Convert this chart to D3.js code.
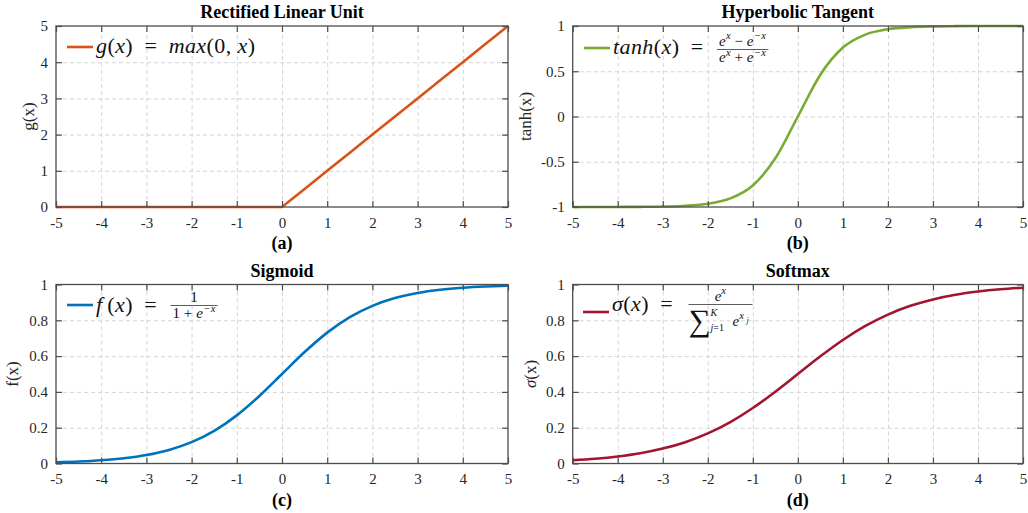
<!DOCTYPE html>
<html>
<head>
<meta charset="utf-8">
<script src="https://cdn.jsdelivr.net/npm/d3@7"></script>
<style>
  body { margin: 0; background: #fff; }
  svg text, svg tspan { font-family: "Liberation Serif", "Times New Roman", serif; }
  .grid line { stroke: #d4d4d4; stroke-dasharray: 4,3; }
  .grid path { display: none; }
  .ax path { display: none; }
  .ax line { stroke: #4d4d4d; stroke-width: 1.2; }
</style>
</head>
<body>
<svg id="chart" width="1028" height="513"></svg>
<script>
// sample points, every 0.5
const xValues = [-5, -4.5, -4, -3.5, -3, -2.5, -2, -1.5, -1, -0.5, 0,
  0.5, 1, 1.5, 2, 2.5, 3, 3.5, 4, 4.5, 5];
const reluValues = [0, 0, 0, 0, 0, 0, 0, 0, 0, 0, 0,
  0.5, 1, 1.5, 2, 2.5, 3, 3.5, 4, 4.5, 5];
const tanhValues = [-0.9999, -0.9998, -0.9993, -0.9982, -0.9951, -0.9866, -0.964, -0.9051, -0.7616, -0.4621, 0,
  0.4621, 0.7616, 0.9051, 0.964, 0.9866, 0.9951, 0.9982, 0.9993, 0.9998, 0.9999];
const sigmoidValues = [0.0067, 0.011, 0.018, 0.0293, 0.0474, 0.0759, 0.1192, 0.1824, 0.2689, 0.3775, 0.5,
  0.6225, 0.7311, 0.8176, 0.8808, 0.9241, 0.9526, 0.9707, 0.982, 0.989, 0.9933];
const softmaxValues = [0.018, 0.0266, 0.0392, 0.0573, 0.0832, 0.1192, 0.168, 0.2315, 0.31, 0.4013, 0.5,
  0.5987, 0.69, 0.7685, 0.832, 0.8808, 0.9168, 0.9427, 0.9608, 0.9734, 0.982];

const xTicks = [-5, -4, -3, -2, -1, 0, 1, 2, 3, 4, 5];
const reluTicks = [0, 1, 2, 3, 4, 5];
const tanhTicks = [-1, -0.5, 0, 0.5, 1];
const unitTicks = [0, 0.2, 0.4, 0.6, 0.8, 1];

const FONT = '"Liberation Serif", "Times New Roman", serif';
const svg = d3.select('#chart');

const panels = [
  { left: 56, right: 508, top: 26, bottom: 207, y: reluValues, yDomain: [0, 5], yTicks: reluTicks,
    color: '#D95319', linear: true, title: 'Rectified Linear Unit', tag: '(a)',
    ylabel: [['g(x)', 'r']], ylabelX: 34,
    legend: { lineY: 47, textX: 96, baseY: 53 } },
  { left: 572.7, right: 1023, top: 26, bottom: 207, y: tanhValues, yDomain: [-1, 1], yTicks: tanhTicks,
    color: '#77AC30', title: 'Hyperbolic Tangent', tag: '(b)',
    ylabel: [['tanh(x)', 'r']], ylabelX: 531,
    legend: { lineY: 48, textX: 613, baseY: 54, barY: 49.5 } },
  { left: 56, right: 508, top: 284.5, bottom: 463.5, y: sigmoidValues, yDomain: [0, 1], yTicks: unitTicks,
    color: '#0072BD', title: 'Sigmoid', tag: '(c)',
    ylabel: [['f(x)', 'r']], ylabelX: 18,
    legend: { lineY: 305, textX: 96, baseY: 312, barY: 305.5 } },
  { left: 572.7, right: 1023, top: 284.5, bottom: 463.5, y: softmaxValues, yDomain: [0, 1], yTicks: unitTicks,
    color: '#A2142F', title: 'Softmax', tag: '(d)',
    ylabel: [['σ', 'i'], ['(x)', 'r']], ylabelX: 536,
    legend: { lineY: 312, textX: 612, baseY: 311, barY: 304.5 } }
];

// writes a run of math pieces: [text, style] with style r / i / sup / sub
function mathText(g, x, y, parts, size, spacing) {
  const t = g.append('text').attr('x', x).attr('y', y)
    .attr('font-family', FONT)
    .attr('font-size', size).attr('fill', '#111')
    .attr('letter-spacing', spacing || 0);
  let shift = 0;
  parts.forEach(([s, st]) => {
    let target = 0, fs = size;
    if (st === 'sup') { target = -size * 0.42; fs = size * 0.7; }
    if (st === 'sub') { target = size * 0.3; fs = size * 0.7; }
    t.append('tspan')
      .attr('dy', target - shift)
      .attr('font-size', fs)
      .attr('font-style', st === 'r' ? 'normal' : 'italic')
      .text(s);
    shift = target;
  });
  return t;
}

function drawFraction(g, x, barY, num, den, size) {
  const n = mathText(g, 0, barY - 4, num, size, 0.4);
  const d = mathText(g, 0, barY + size * 0.85, den, size, 0.4);
  const wn = n.node().getBBox().width;
  const wd = d.node().getBBox().width;
  const w = Math.max(wn, wd) + 4;
  n.attr('x', x + (w - wn) / 2);
  d.attr('x', x + (w - wd) / 2);
  g.append('line').attr('x1', x).attr('x2', x + w)
    .attr('y1', barY).attr('y2', barY)
    .attr('stroke', '#333').attr('stroke-width', 0.8);
  return w;
}

function styleTicks(sel) {
  sel.attr('font-family', FONT).attr('font-size', 15);
  sel.selectAll('text').attr('fill', '#262626');
}

const EQ = '\u2002=\u2002';
const S = 22;

panels.forEach((p, k) => {
  const w = p.right - p.left;
  const h = p.bottom - p.top;
  const g = svg.append('g').attr('transform', `translate(${p.left},${p.top})`);

  const x = d3.scaleLinear().domain([-5, 5]).range([0, w]);
  const y = d3.scaleLinear().domain(p.yDomain).range([h, 0]);

  // dashed grid
  g.append('g').attr('class', 'grid')
    .attr('transform', `translate(0,${h})`)
    .call(d3.axisBottom(x).tickValues(xTicks.slice(1, -1)).tickSize(-h).tickFormat(''));
  g.append('g').attr('class', 'grid')
    .call(d3.axisLeft(y).tickValues(p.yTicks.slice(1, -1)).tickSize(-w).tickFormat(''));

  // curve
  const line = d3.line()
    .x((d, i) => x(xValues[i]))
    .y(d => y(d))
    .curve(p.linear ? d3.curveLinear : d3.curveMonotoneX);
  g.append('path')
    .datum(p.y)
    .attr('d', line)
    .attr('fill', 'none')
    .attr('stroke', p.color)
    .attr('stroke-width', 2.6);

  // ticks, all four sides pointing in
  g.append('g').attr('class', 'ax')
    .attr('transform', `translate(0,${h})`)
    .call(d3.axisBottom(x).tickValues(xTicks).tickSize(-6).tickPadding(10).tickFormat(d => String(d)))
    .call(styleTicks);
  g.append('g').attr('class', 'ax')
    .call(d3.axisTop(x).tickValues(xTicks).tickSize(-6).tickFormat(''));
  g.append('g').attr('class', 'ax')
    .call(d3.axisLeft(y).tickValues(p.yTicks).tickSize(-6).tickPadding(8).tickFormat(d => String(d)))
    .call(styleTicks);
  g.append('g').attr('class', 'ax')
    .attr('transform', `translate(${w},0)`)
    .call(d3.axisRight(y).tickValues(p.yTicks).tickSize(-6).tickFormat(''));

  g.append('rect')
    .attr('width', w).attr('height', h)
    .attr('fill', 'none').attr('stroke', '#4d4d4d').attr('stroke-width', 1.3);

  // titles and labels
  g.append('text')
    .attr('x', w / 2).attr('y', -8)
    .attr('text-anchor', 'middle')
    .attr('font-family', FONT).attr('font-size', 18).attr('font-weight', 'bold')
    .text(p.title);
  g.append('text')
    .attr('x', w / 2).attr('y', h + 42)
    .attr('text-anchor', 'middle')
    .attr('font-family', FONT).attr('font-size', 18).attr('font-weight', 'bold')
    .text(p.tag);

  const yl = svg.append('text')
    .attr('transform', `translate(${p.ylabelX},${(p.top + p.bottom) / 2}) rotate(-90)`)
    .attr('text-anchor', 'middle')
    .attr('font-family', FONT).attr('font-size', 17).attr('fill', '#262626');
  p.ylabel.forEach(([s, st]) => {
    yl.append('tspan').attr('font-style', st === 'i' ? 'italic' : 'normal').text(s);
  });

  // legend
  const L = p.legend;
  const lg = svg.append('g');
  lg.append('line')
    .attr('x1', L.textX - 29).attr('x2', L.textX - 3)
    .attr('y1', L.lineY).attr('y2', L.lineY)
    .attr('stroke', p.color).attr('stroke-width', 2.6);

  if (k === 0) {
    mathText(lg, L.textX, L.baseY, [['g', 'i'], ['(', 'r'], ['x', 'i'], [')', 'r'], [EQ, 'r'],
      ['max', 'i'], ['(0, ', 'r'], ['x', 'i'], [')', 'r']], S, 0.4);
  } else if (k === 1) {
    const t = mathText(lg, L.textX, L.baseY, [['tanh', 'i'], ['(', 'r'], ['x', 'i'], [')', 'r'], [EQ, 'r']], S, 0.4);
    const x0 = L.textX + t.node().getBBox().width + 2;
    drawFraction(lg, x0, L.barY,
      [['e', 'i'], ['x', 'sup'], ['\u2009−\u2009', 'r'], ['e', 'i'], ['−x', 'sup']],
      [['e', 'i'], ['x', 'sup'], ['\u2009+\u2009', 'r'], ['e', 'i'], ['−x', 'sup']], 15);
  } else if (k === 2) {
    const t = mathText(lg, L.textX, L.baseY, [['f', 'i'], ['\u2009(', 'r'], ['x', 'i'], [')', 'r'], [EQ, 'r']], S, 0.4);
    const x0 = L.textX + t.node().getBBox().width + 2;
    drawFraction(lg, x0, L.barY,
      [['1', 'r']],
      [['1\u2009+\u2009', 'r'], ['e', 'i'], ['−x', 'sup']], 15);
  } else {
    const t = mathText(lg, L.textX, L.baseY, [['σ', 'i'], ['(', 'r'], ['x', 'i'], [')', 'r'], [EQ, 'r']], S, 0.4);
    const x0 = L.textX + t.node().getBBox().width + 4;
    const wBar = 64;
    const num = mathText(lg, 0, L.barY - 4, [['e', 'i'], ['x', 'sup']], 15);
    num.attr('x', x0 + (wBar - num.node().getBBox().width) / 2);
    lg.append('line').attr('x1', x0).attr('x2', x0 + wBar)
      .attr('y1', L.barY).attr('y2', L.barY)
      .attr('stroke', '#333').attr('stroke-width', 0.8);
    lg.append('text').attr('x', x0).attr('y', L.barY + 26)
      .attr('font-family', FONT)
      .attr('font-size', 31).attr('fill', '#111').text('∑');
    mathText(lg, x0 + 22, L.barY + 26, [['j', 'i'], ['=1', 'r']], 10);
    mathText(lg, x0 + 22, L.barY + 11, [['K', 'i']], 10);
    mathText(lg, x0 + 44, L.barY + 21, [['e', 'i'], ['x', 'sup']], 15);
    mathText(lg, x0 + 58, L.barY + 18, [['j', 'i']], 8);
  }
});
</script>
</body>
</html>
